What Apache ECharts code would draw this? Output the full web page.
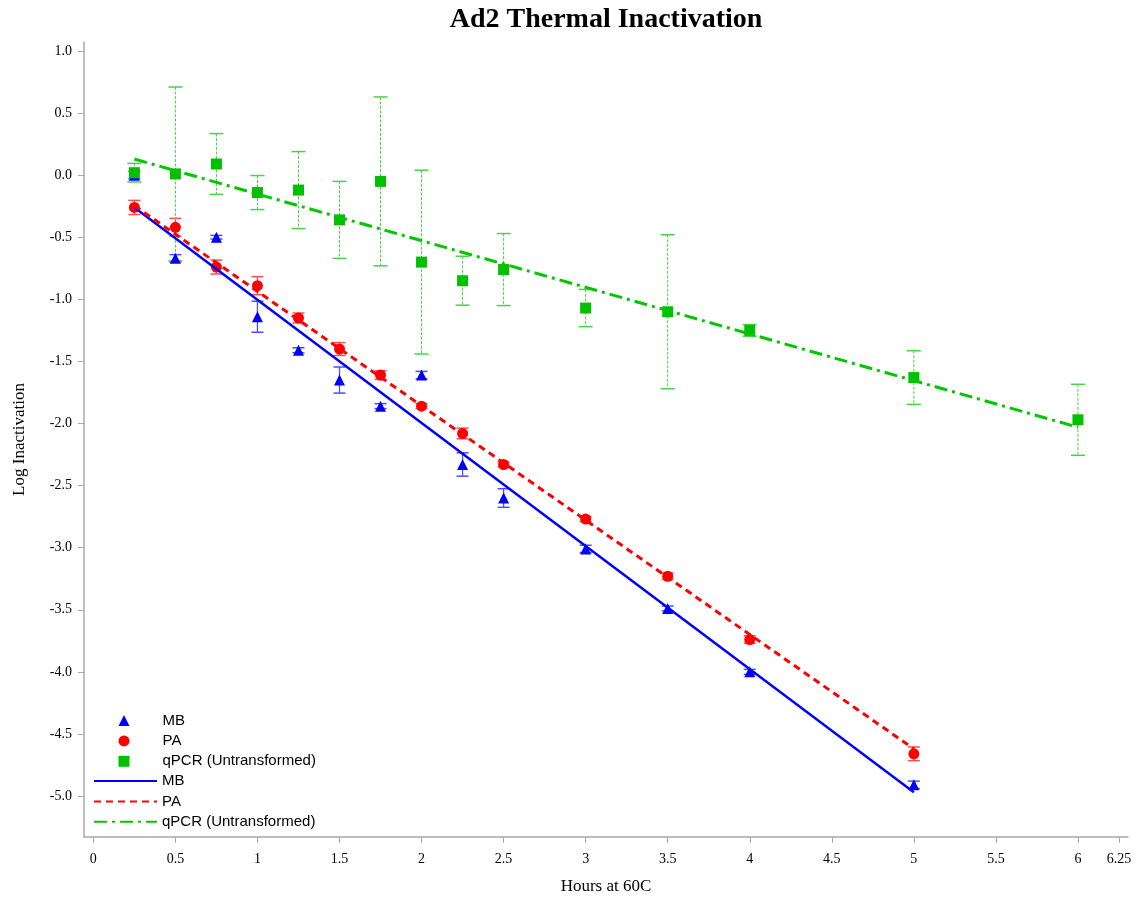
<!DOCTYPE html>
<html>
<head>
<meta charset="utf-8">
<script src="https://cdn.jsdelivr.net/npm/echarts@6/dist/echarts.min.js"></script>
<style>
  html, body { margin: 0; padding: 0; background: #ffffff; }
  #chart { width: 1144px; height: 902px; }
</style>
</head>
<body>
<div id="chart"></div>
<script>
// ---- Data ----
const hours = [0.25, 0.5, 0.75, 1, 1.25, 1.5, 1.75, 2, 2.25, 2.5, 3, 3.5, 4, 5];
const qpcrHours = [0.25, 0.5, 0.75, 1, 1.25, 1.5, 1.75, 2, 2.25, 2.5, 3, 3.5, 4, 5, 6];

const mbMean = [0.00, -0.67, -0.50, -1.14, -1.41, -1.65, -1.86, -1.61, -2.33, -2.60, -3.01, -3.49, -4.00, -4.91];
const mbErr  = [0.03, 0.03, 0.015, 0.125, 0.02, 0.105, 0.02, 0.03, 0.094, 0.075, 0.03, 0.02, 0.02, 0.03];

const paMean = [-0.26, -0.42, -0.74, -0.89, -1.15, -1.40, -1.61, -1.86, -2.08, -2.33, -2.77, -3.23, -3.74, -4.66];
const paErr  = [0.057, 0.072, 0.056, 0.073, 0.04, 0.052, 0.035, 0.02, 0.043, 0.02, 0.02, 0.025, 0.03, 0.055];

const qMean = [0.02, 0.01, 0.09, -0.14, -0.12, -0.36, -0.05, -0.70, -0.85, -0.76, -1.07, -1.10, -1.25, -1.63, -1.97];
const qErr  = [0.075, 0.70, 0.245, 0.137, 0.31, 0.31, 0.68, 0.74, 0.197, 0.29, 0.15, 0.62, 0.047, 0.216, 0.286];

// Regression lines (end points)
const mbFitX = [0.25, 5];
const mbFitY = [-0.26, -4.97];
const paFitX = [0.25, 5];
const paFitY = [-0.245, -4.62];
const qFitX = [0.25, 6];
const qFitY = [0.13, -2.03];

// Tick labels
const xTicks = [0, 0.5, 1, 1.5, 2, 2.5, 3, 3.5, 4, 4.5, 5, 5.5, 6, 6.25];
const yTicks = [1.0, 0.5, 0.0, -0.5, -1.0, -1.5, -2.0, -2.5, -3.0, -3.5, -4.0, -4.5, -5.0];

const labels = ['MB', 'PA', 'qPCR (Untransformed)'];
const fitSuffix = ' fit';

// ---- Helpers ----
const pairs = (xs, ys) => xs.map((x, i) => [x, ys[i]]);
const errData = (xs, m, e) => xs.map((x, i) => [x, m[i] - e[i], m[i] + e[i]]);

function errRender(cfg) {
  return function (params, api) {
    const x = api.value(0), lo = api.value(1), hi = api.value(2);
    const pHi = api.coord([x, hi]);
    const pLo = api.coord([x, lo]);
    const hw = cfg.cap / 2;
    return {
      type: 'group',
      children: [
        { type: 'line', shape: { x1: pHi[0], y1: pHi[1], x2: pLo[0], y2: pLo[1] },
          style: { stroke: cfg.color, lineWidth: cfg.w, lineDash: cfg.dash || null } },
        { type: 'line', shape: { x1: pHi[0] - hw, y1: pHi[1], x2: pHi[0] + hw, y2: pHi[1] },
          style: { stroke: cfg.color, lineWidth: cfg.capW } },
        { type: 'line', shape: { x1: pLo[0] - hw, y1: pLo[1], x2: pLo[0] + hw, y2: pLo[1] },
          style: { stroke: cfg.color, lineWidth: cfg.capW } }
      ]
    };
  };
}

const blue = '#0000ff', red = '#ff0000', green = '#00c000';
const serif = '"Liberation Serif", "Times New Roman", serif';
const sans = '"Liberation Sans", Arial, sans-serif';
const axisGray = '#a8a8a8';

const chart = echarts.init(document.getElementById('chart'), null, { renderer: 'canvas' });

const legendText = { fontFamily: sans, fontSize: 15, lineHeight: 15, color: '#000' };

const option = {
  backgroundColor: '#ffffff',
  animation: false,
  title: {
    text: 'Ad2 Thermal Inactivation',
    left: 606, top: 6, textAlign: 'center', padding: 0,
    textStyle: { fontFamily: serif, fontWeight: 'bold', fontSize: 28, color: '#000' }
  },
  grid: { left: 84, top: 42, right: 16, bottom: 65, containLabel: false, outerBoundsMode: 'none' },
  legend: [
    {
      data: labels,
      orient: 'vertical', left: 113.5, top: 708,
      itemWidth: 11, itemHeight: 11, itemGap: 5.4,
      selectedMode: false,
      formatter: name => '{sp|}' + name,
      textStyle: Object.assign({}, legendText, { rich: { sp: { width: 28 } } })
    },
    {
      data: labels.map(l => l + fitSuffix),
      orient: 'vertical', left: 88, top: 768.5,
      itemWidth: 63, itemHeight: 11, itemGap: 5.4,
      selectedMode: false,
      itemStyle: { opacity: 0 },
      formatter: name => name.slice(0, name.length - fitSuffix.length),
      textStyle: legendText
    }
  ],
  xAxis: {
    type: 'value', min: -0.057, max: 6.305,
    name: 'Hours at 60C', nameLocation: 'middle', nameGap: 41,
    nameTextStyle: { fontFamily: serif, fontSize: 17, color: '#000' },
    axisLine: { show: true, onZero: false, lineStyle: { color: axisGray, width: 1.5 } },
    axisTick: { show: true, customValues: xTicks, length: 6, lineStyle: { color: axisGray, width: 1 } },
    axisLabel: { customValues: xTicks, formatter: v => String(v), margin: 15,
      fontFamily: serif, fontSize: 14, color: '#000' },
    splitLine: { show: false }
  },
  yAxis: {
    type: 'value', min: -5.330, max: 1.0725,
    name: 'Log Inactivation', nameLocation: 'middle', nameGap: 56,
    nameTextStyle: { fontFamily: serif, fontSize: 17, color: '#000' },
    axisLine: { show: true, onZero: false, lineStyle: { color: axisGray, width: 1.5 } },
    axisTick: { show: true, customValues: yTicks, length: 6, lineStyle: { color: axisGray, width: 1 } },
    axisLabel: { customValues: yTicks, formatter: v => Number(v).toFixed(1), margin: 12,
      fontFamily: serif, fontSize: 14, color: '#000' },
    splitLine: { show: false }
  },
  series: [
    { name: 'MB err', type: 'custom', renderItem: errRender({ color: '#4d4dff', w: 1.3, capW: 1.5, cap: 12 }),
      data: errData(hours, mbMean, mbErr), encode: { x: 0, y: [1, 2] }, silent: true },
    { name: labels[0], type: 'scatter', data: pairs(hours, mbMean), symbol: 'triangle', symbolSize: 11,
      itemStyle: { color: blue, opacity: 1 } },
    { name: 'PA err', type: 'custom', renderItem: errRender({ color: '#ff4d4d', w: 1.3, capW: 1.5, cap: 12 }),
      data: errData(hours, paMean, paErr), encode: { x: 0, y: [1, 2] }, silent: true },
    { name: labels[1], type: 'scatter', data: pairs(hours, paMean), symbol: 'circle', symbolSize: 11,
      itemStyle: { color: red, opacity: 1 } },
    { name: 'qPCR err', type: 'custom', renderItem: errRender({ color: '#44d444', w: 1, capW: 1.5, cap: 14, dash: [3, 1.5] }),
      data: errData(qpcrHours, qMean, qErr), encode: { x: 0, y: [1, 2] }, silent: true },
    { name: labels[2], type: 'scatter', data: pairs(qpcrHours, qMean), symbol: 'rect', symbolSize: 11,
      itemStyle: { color: green, opacity: 1 } },
    { name: labels[0] + fitSuffix, type: 'line', data: pairs(mbFitX, mbFitY), symbol: 'none', showSymbol: false,
      lineStyle: { color: blue, width: 2.5, type: 'solid' }, itemStyle: { color: blue } },
    { name: labels[1] + fitSuffix, type: 'line', data: pairs(paFitX, paFitY), symbol: 'none', showSymbol: false,
      lineStyle: { color: red, width: 3, type: [7, 5] }, itemStyle: { color: red } },
    { name: labels[2] + fitSuffix, type: 'line', data: pairs(qFitX, qFitY), symbol: 'none', showSymbol: false,
      lineStyle: { color: '#00c800', width: 3, type: [13, 5, 3, 5] }, itemStyle: { color: '#00c800' } }
  ]
};

chart.setOption(option);
</script>
</body>
</html>
